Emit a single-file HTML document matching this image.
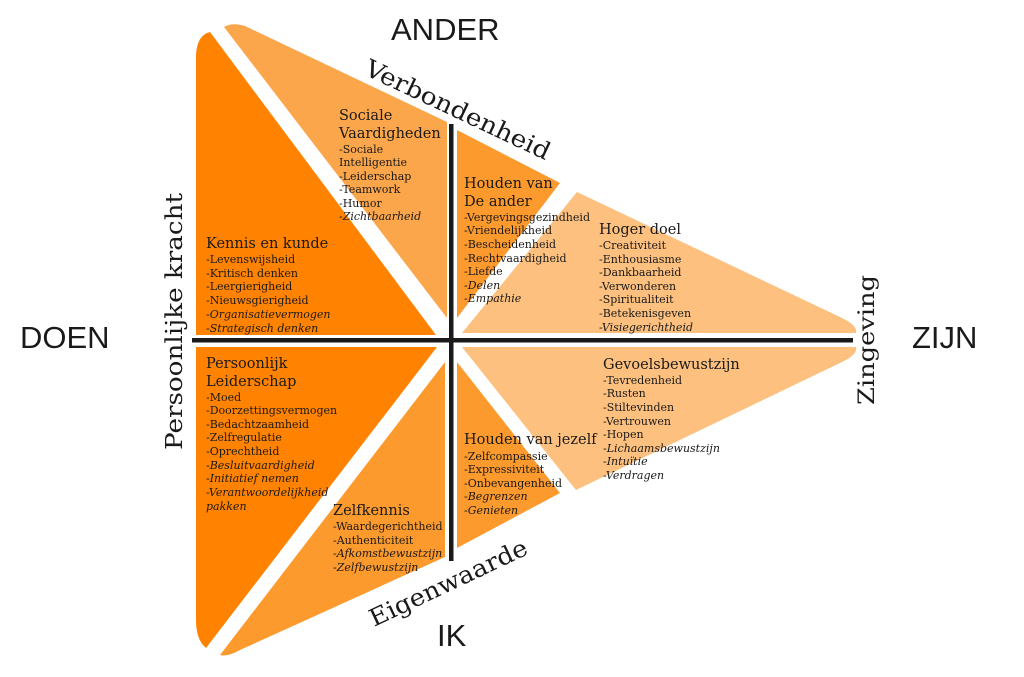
<!DOCTYPE html>
<html><head><meta charset="utf-8"><style>
html,body{margin:0;padding:0;background:#fff;width:1024px;height:677px;overflow:hidden}
svg text{font-family:"DejaVu Serif","Liberation Serif",serif;fill:#1a1a1a}
.h{font-size:14.5px}
.i{font-size:11px}
.it{font-style:italic}
.big{font-family:"Liberation Sans",sans-serif;font-size:31px}
</style></head><body>
<svg width="1024" height="677" viewBox="0 0 1024 677" xmlns="http://www.w3.org/2000/svg">
<path d="M196,55 Q197,35 210,32 L436,335 L196,335 Z" fill="#ff8300"/>
<path d="M196,347 L437,347 L206,648 Q196,640 196,620 Z" fill="#ff8300"/>
<path d="M224,27 Q232,22 245,26 L447,122 L447,318 Z" fill="#fca64c"/>
<path d="M445,362 L445,557 L240,650 Q228,657 220,655 Z" fill="#fd9a2e"/>
<path d="M457,130 L560,183 L457,318 Z" fill="#fd9a2e"/>
<path d="M457,362 L560,493 L457,548 Z" fill="#fd9a2e"/>
<path d="M577,192 L842,318 Q858,326 856,333 L462,333 Z" fill="#fdc07e"/>
<path d="M462,347 L856,347 Q858,354 842,362 L576,490 Z" fill="#fdc07e"/>
<rect x="192" y="338" width="661" height="4.5" fill="#1a1a1a"/>
<rect x="449" y="124" width="4.5" height="437" fill="#1a1a1a"/>

<text class="big" x="391" y="40">ANDER</text>
<text class="big" x="20" y="348">DOEN</text>
<text class="big" x="912" y="348">ZIJN</text>
<text class="big" x="437" y="646">IK</text>

<text x="363" y="74" font-size="24" textLength="202" lengthAdjust="spacingAndGlyphs" transform="rotate(25.3 363 74)">Verbondenheid</text>
<text x="374" y="627" font-size="24" textLength="172" lengthAdjust="spacingAndGlyphs" transform="rotate(-25.3 374 627)">Eigenwaarde</text>
<text x="182" y="450" font-size="23" textLength="257" lengthAdjust="spacingAndGlyphs" transform="rotate(-90 182 450)">Persoonlijke kracht</text>
<text x="874" y="405" font-size="22" textLength="130" lengthAdjust="spacingAndGlyphs" transform="rotate(-90 874 405)">Zingeving</text>

<text class="h" x="339" y="120">Sociale</text>
<text class="h" x="339" y="138">Vaardigheden</text>
<text class="i" x="339" y="153">-Sociale</text><text class="i" x="339" y="166">Intelligentie</text><text class="i" x="339" y="180">-Leiderschap</text><text class="i" x="339" y="193">-Teamwork</text><text class="i" x="339" y="207">-Humor</text><text class="i it" x="339" y="220">-Zichtbaarheid</text>

<text class="h" x="206" y="248">Kennis en kunde</text>
<text class="i" x="206" y="263">-Levenswijsheid</text>
<text class="i" x="206" y="277">-Kritisch denken</text>
<text class="i" x="206" y="290">-Leergierigheid</text>
<text class="i" x="206" y="304">-Nieuwsgierigheid</text>
<text class="i it" x="206" y="318">-Organisatievermogen</text>
<text class="i it" x="206" y="332">-Strategisch denken</text>

<text class="h" x="464" y="188">Houden van</text>
<text class="h" x="464" y="206">De ander</text>
<text class="i" x="464" y="221" textLength="126" lengthAdjust="spacingAndGlyphs">-Vergevingsgezindheid</text>
<text class="i" x="464" y="234">-Vriendelijkheid</text>
<text class="i" x="464" y="248">-Bescheidenheid</text>
<text class="i" x="464" y="262">-Rechtvaardigheid</text>
<text class="i" x="464" y="275">-Liefde</text>
<text class="i it" x="464" y="289">-Delen</text>
<text class="i it" x="464" y="302">-Empathie</text>

<text class="h" x="599" y="234">Hoger doel</text>
<text class="i" x="599" y="249">-Creativiteit</text>
<text class="i" x="599" y="263">-Enthousiasme</text>
<text class="i" x="599" y="276">-Dankbaarheid</text>
<text class="i" x="599" y="290">-Verwonderen</text>
<text class="i" x="599" y="303">-Spiritualiteit</text>
<text class="i" x="599" y="317">-Betekenisgeven</text>
<text class="i it" x="599" y="331">-Visiegerichtheid</text>

<text class="h" x="206" y="368">Persoonlijk</text>
<text class="h" x="206" y="386">Leiderschap</text>
<text class="i" x="206" y="401">-Moed</text>
<text class="i" x="206" y="414">-Doorzettingsvermogen</text>
<text class="i" x="206" y="428">-Bedachtzaamheid</text>
<text class="i" x="206" y="441">-Zelfregulatie</text>
<text class="i" x="206" y="455">-Oprechtheid</text>
<text class="i it" x="206" y="469">-Besluitvaardigheid</text>
<text class="i it" x="206" y="482">-Initiatief nemen</text>
<text class="i it" x="206" y="496">-Verantwoordelijkheid</text>
<text class="i it" x="206" y="510">pakken</text>

<text class="h" x="333" y="515">Zelfkennis</text>
<text class="i" x="333" y="530">-Waardegerichtheid</text>
<text class="i" x="333" y="544">-Authenticiteit</text>
<text class="i it" x="333" y="557">-Afkomstbewustzijn</text>
<text class="i it" x="333" y="571">-Zelfbewustzijn</text>

<text class="h" x="464" y="444">Houden van jezelf</text>
<text class="i" x="464" y="460">-Zelfcompassie</text>
<text class="i" x="464" y="473">-Expressiviteit</text>
<text class="i" x="464" y="487">-Onbevangenheid</text>
<text class="i it" x="464" y="500">-Begrenzen</text>
<text class="i it" x="464" y="514">-Genieten</text>

<text class="h" x="603" y="369">Gevoelsbewustzijn</text>
<text class="i" x="603" y="384">-Tevredenheid</text>
<text class="i" x="603" y="397">-Rusten</text>
<text class="i" x="603" y="411">-Stiltevinden</text>
<text class="i" x="603" y="425">-Vertrouwen</text>
<text class="i" x="603" y="438">-Hopen</text>
<text class="i it" x="603" y="452">-Lichaamsbewustzijn</text>
<text class="i it" x="603" y="465">-Intuïtie</text>
<text class="i it" x="603" y="479">-Verdragen</text>
</svg>
</body></html>
